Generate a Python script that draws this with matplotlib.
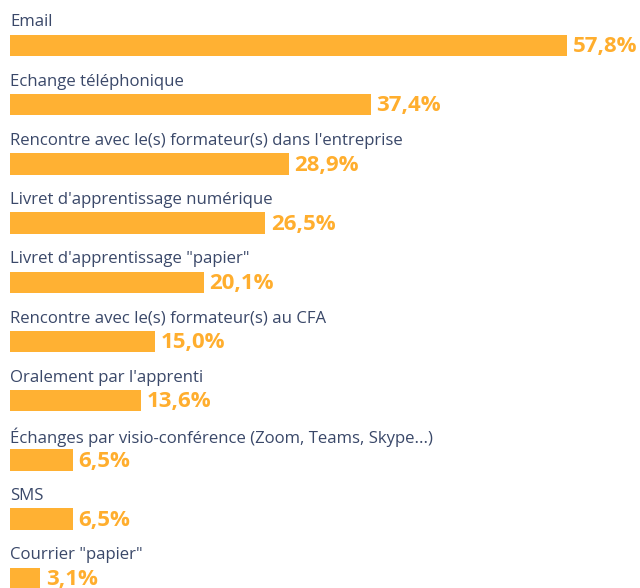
import matplotlib.pyplot as plt

categories = [
    "Email",
    "Echange téléphonique",
    "Rencontre avec le(s) formateur(s) dans l'entreprise",
    "Livret d'apprentissage numérique",
    "Livret d'apprentissage \"papier\"",
    "Rencontre avec le(s) formateur(s) au CFA",
    "Oralement par l'apprenti",
    "Échanges par visio-conférence (Zoom, Teams, Skype...)",
    "SMS",
    "Courrier \"papier\"",
]
values = [57.8, 37.4, 28.9, 26.5, 20.1, 15.0, 13.6, 6.5, 6.5, 3.1]

bar_color = "#FFB133"
value_color = "#FFAE2E"
text_color = "#3A4869"

fig = plt.figure(figsize=(6.4, 5.88), dpi=100)
ax = fig.add_axes([0, 0, 1, 1])

ypos = list(range(len(values)))
ax.barh(ypos, values, height=0.36, color=bar_color, left=0)

for i, (cat, v) in enumerate(zip(categories, values)):
    ax.text(0, i - 0.39, cat, ha="left", va="center", fontsize=12.1,
            family="Open Sans", color=text_color)
    ax.text(v + 0.6, i + 0.02, f"{v:.1f}%".replace(".", ","), ha="left", va="center",
            fontsize=16, fontweight="bold", family="Open Sans", color=value_color)

ax.set_xlim(-10 / 9.64, 630 / 9.64)
ax.set_ylim(9.164, -0.769)
ax.axis("off")

fig.savefig("out.png", dpi=100)
